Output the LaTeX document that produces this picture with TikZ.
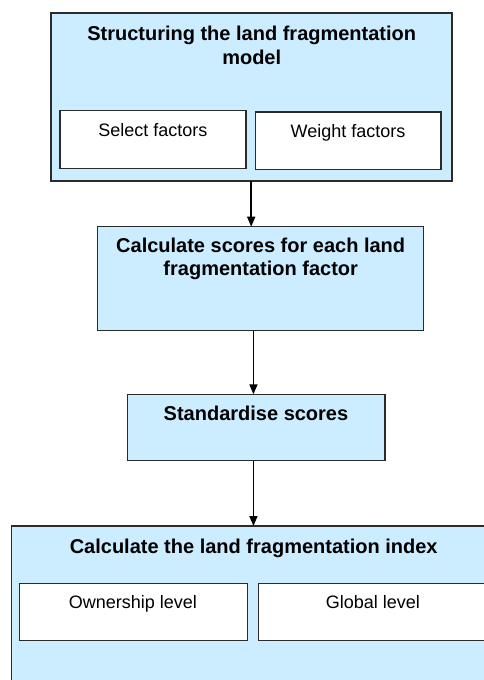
\documentclass[tikz,border=0pt]{standalone}
\usepackage{fontspec}
\setmainfont{Liberation Sans}
\usetikzlibrary{arrows.meta}
\definecolor{boxblue}{HTML}{CCECFF}
\definecolor{edge}{HTML}{2B2B2B}
\tikzset{
  bluebox/.style={draw=edge, line width=1.3pt, fill=boxblue, inner sep=0pt, outer sep=0pt, anchor=north west},
  whitebox/.style={draw=edge, line width=1.2pt, fill=white, inner sep=0pt, outer sep=0pt, anchor=north west},
  titletext/.style={inner sep=0pt, anchor=base, font=\fontsize{20}{23}\selectfont\bfseries},
  plaintext/.style={inner sep=0pt, anchor=base, font=\fontsize{18}{21}\selectfont},
  arr/.style={line width=1.7pt, black, -{Triangle[length=10pt,width=8pt]}}
}
\begin{document}
\begin{tikzpicture}[x=1pt,y=-1pt]
\useasboundingbox[fill=white] (0,0) rectangle (484,680);
% box 1
\node[bluebox, minimum width=401, minimum height=168] (b1) at (51,13) {};
\node[whitebox, minimum width=186, minimum height=57.6] (sel) at (60,110.7) {};
\node[whitebox, minimum width=185.7, minimum height=57.3] (wgt) at (255.3,112) {};
\node[titletext] (t1a) at (251.7,40.7) {Structuring the land fragmentation};
\node[titletext] (t1b) at (251.7,64) {model};
\node[plaintext] (tsel) at (152.8,136.7) {Select factors};
\node[plaintext] (twgt) at (348,137) {Weight factors};
% box 2
\node[bluebox, minimum width=325.6, minimum height=104] (b2) at (97.7,226.7) {};
\node[titletext] (t2a) at (260.7,252.7) {Calculate scores for each land};
\node[titletext] (t2b) at (260.7,275.7) {fragmentation factor};
% box 3
\node[bluebox, minimum width=257.7, minimum height=66.4] (b3) at (127.3,394.3) {};
\node[titletext] (t3) at (256,420.7) {Standardise scores};
% box 4
\node[bluebox, minimum width=484.3, minimum height=180] (b4) at (11.7,526) {};
\node[whitebox, minimum width=228, minimum height=57.2] (own) at (19.3,583.3) {};
\node[whitebox, minimum width=229.3, minimum height=57.2] (glob) at (258.7,583.3) {};
\node[titletext] (t4) at (253.7,553.3) {Calculate the land fragmentation index};
\node[plaintext] (town) at (133,608.3) {Ownership level};
\node[plaintext] (tglob) at (372.8,608.3) {Global level};
% arrows
\draw[arr] ([xshift=-0.3pt]b1.south) -- ([xshift=-0.3pt]b1.south |- b2.north);
\draw[arr] ([xshift=-2.7pt]b3.north |- b2.south) -- ([xshift=-2.7pt]b3.north);
\draw[arr] ([xshift=-2.7pt]b3.south) -- ([xshift=-2.7pt]b3.south |- b4.north);
\end{tikzpicture}
\end{document}
